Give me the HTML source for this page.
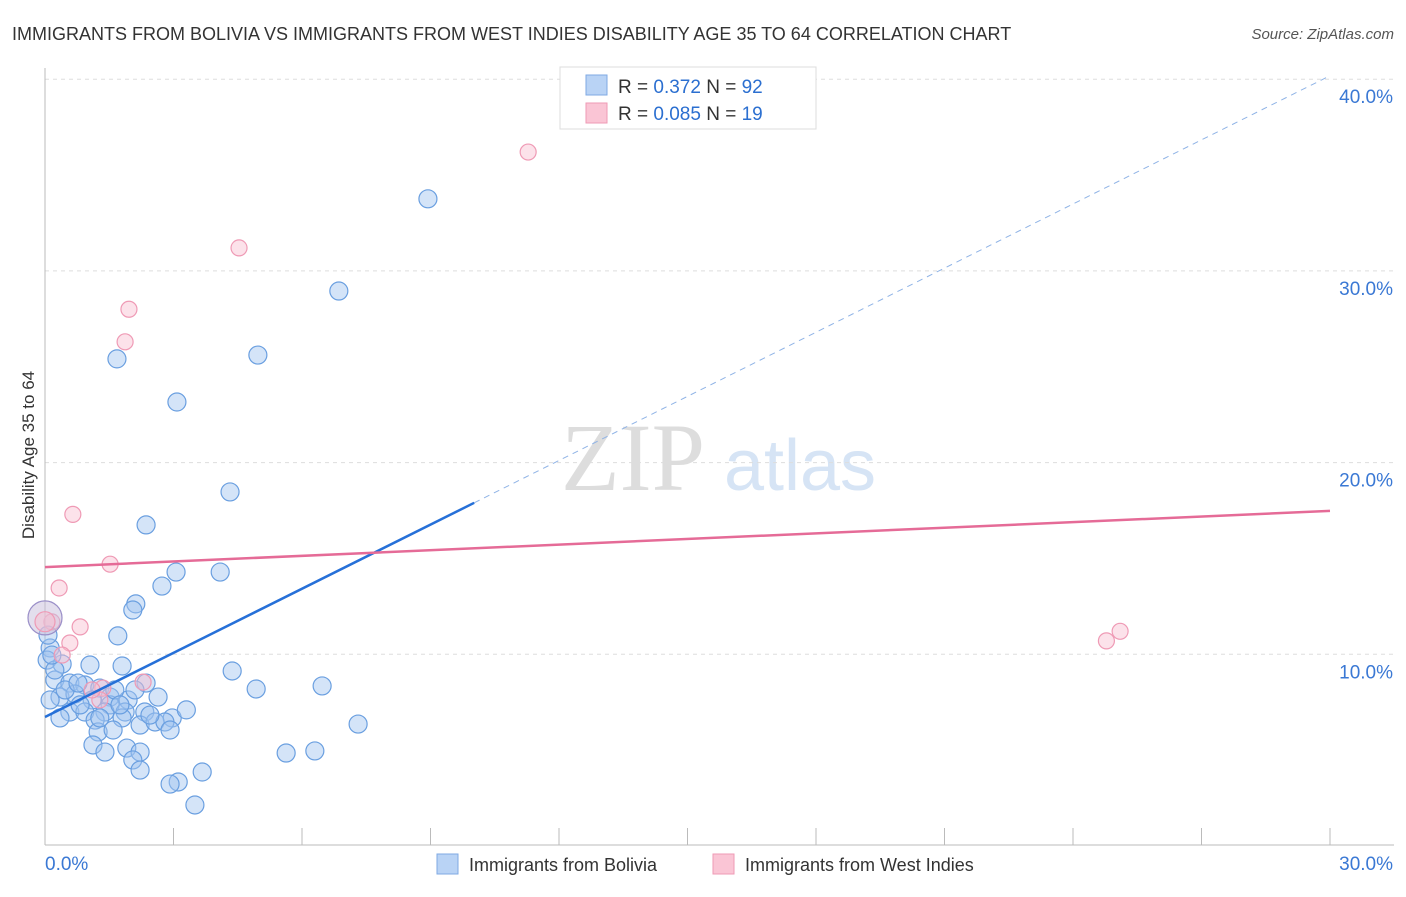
<!DOCTYPE html>
<html><head><meta charset="utf-8"><style>
body{margin:0;background:#fff;font-family:"Liberation Sans",sans-serif;}
</style></head><body>
<svg id="chart" width="1406" height="892" xmlns="http://www.w3.org/2000/svg" style="font-family:'Liberation Sans',sans-serif">
<text x="12" y="40" font-size="18" fill="#333">IMMIGRANTS FROM BOLIVIA VS IMMIGRANTS FROM WEST INDIES DISABILITY AGE 35 TO 64 CORRELATION CHART</text>
<text x="1394" y="39" font-size="15" fill="#555" font-style="italic" text-anchor="end">Source: ZipAtlas.com</text>
<text x="633" y="490" font-size="96" fill="#ddd" font-family="'Liberation Serif',serif" text-anchor="middle">ZIP</text>
<text x="800" y="490" font-size="72" fill="#d6e4f5" text-anchor="middle">atlas</text>
<g id="grid"></g><g id="axes"></g><g id="marks"></g>
<text transform="translate(34,455) rotate(-90)" font-size="17" fill="#333" text-anchor="middle">Disability Age 35 to 64</text>
<g>
<rect x="560" y="67" width="256" height="62" fill="#fff" stroke="#ddd"/>
<rect x="586" y="75" width="21" height="20" fill="#b9d3f5" stroke="#7fa9e3"/>
<rect x="586" y="103" width="21" height="20" fill="#fac5d5" stroke="#ef9ab5"/>
<text x="618" y="93" font-size="19" fill="#333">R = <tspan fill="#2b6fd0"> 0.372</tspan>   N = <tspan fill="#2b6fd0">92</tspan></text>
<text x="618" y="120" font-size="19" fill="#333">R = <tspan fill="#2b6fd0">0.085</tspan>   N = <tspan fill="#2b6fd0"> 19</tspan></text>
</g>
<g>
<rect x="437" y="854" width="21" height="20" fill="#b9d3f5" stroke="#7fa9e3"/>
<text x="469" y="871" font-size="18" fill="#333">Immigrants from Bolivia</text>
<rect x="713" y="854" width="21" height="20" fill="#fac5d5" stroke="#ef9ab5"/>
<text x="745" y="871" font-size="18" fill="#333">Immigrants from West Indies</text>
</g>
</svg>
<script>
const yTicks=[10,20,30,40];
const yTickLabels=["10.0%","20.0%","30.0%","40.0%"];
const xTickLabels=["0.0%","30.0%"];
const blueX=[8.94,6.86,4.97,1.68,3.08,4.32,2.36,3.06,4.09,2.73,2.12,2.05,1.70,0.12,0.05,0.40,1.05,1.80,4.37,0.23,0.58,0.93,1.28,2.36,4.93,6.47,0.35,0.70,1.10,1.52,1.94,2.64,1.52,0.58,0.93,1.40,1.87,2.33,2.97,3.30,1.17,1.80,2.22,2.57,2.80,2.92,7.31,1.24,1.59,1.12,1.91,2.22,1.40,2.05,2.22,5.63,6.30,3.67,3.11,2.92,3.50,0.23,0.47,0.82,1.63,2.10,2.45,1.75,1.28,0.12,0.35,0.77,0.07,0.16];
const blueY=[33.76,28.95,25.61,25.41,23.16,18.47,16.75,14.29,14.29,13.56,12.63,12.31,10.96,10.33,9.70,9.49,9.44,9.39,9.13,8.66,8.50,8.40,8.24,8.50,8.19,8.35,7.77,7.93,7.62,7.77,7.62,7.77,7.36,6.99,6.99,6.99,6.99,6.99,6.68,7.10,6.57,6.68,6.31,6.47,6.47,6.05,6.36,5.95,6.05,5.27,5.11,4.90,4.90,4.49,3.96,4.85,4.96,3.86,3.34,3.23,2.14,9.18,8.14,7.36,8.14,8.14,6.83,7.36,6.68,7.62,6.68,8.50,11.0,9.96];
const pinkX=[11.28,4.53,1.96,1.87,0.65,1.52,0.33,0.16,0.82,0.58,0.40,1.35,2.29,25.1,24.78,1.28,1.10];
const pinkY=[36.2,31.2,28.0,26.3,17.3,14.7,13.46,11.69,11.43,10.59,9.96,8.24,8.55,11.2,10.7,7.62,8.14];
const bigX=[0,0];const bigY=[11.9,11.7];
const blueTrend=[6.73,1.115];const pinkTrend=[14.55,0.0977];
const X=v=>45+v/30*1285, Y=v=>846-v*19.17;
const NS="http://www.w3.org/2000/svg";
function mk(p,t,a){const e=document.createElementNS(NS,t);for(const k in a)e.setAttribute(k,a[k]);document.getElementById(p).appendChild(e);return e;}
yTicks.forEach((t,i)=>{
 const g=mk('grid','line',{x1:45,x2:1394,y1:Y(t),y2:Y(t),stroke:'#ddd','stroke-dasharray':'4,4'});
 
 
 const l=mk('axes','text',{x:1393,y:Y(t)+24,'text-anchor':'end','font-size':19,fill:'#3a78d4'});
 l.textContent=yTickLabels[i];
 
 
});
const ax=mk('axes','line',{x1:45,x2:1394,y1:845,y2:845,stroke:'#bbb'});


const ay=mk('axes','line',{x1:45,x2:45,y1:68,y2:845,stroke:'#bbb'});


for(let i=1;i<=10;i++){const t=mk('axes','line',{x1:X(i*3),x2:X(i*3),y1:828,y2:845,stroke:'#bbb'});
 
 }
xTickLabels.forEach((s,i)=>{const l=mk('axes','text',{x:i?1393:45,y:870,'text-anchor':i?'end':'start','font-size':19,fill:'#3a78d4'});l.textContent=s;
 
 });
blueX.forEach((x,i)=>{const c=mk('marks','circle',{cx:X(x),cy:Y(blueY[i]),r:9,fill:'rgba(160,196,240,0.45)',stroke:'#6a9fe0','stroke-width':1.2});
 
 });
pinkX.forEach((x,i)=>{const c=mk('marks','circle',{cx:X(x),cy:Y(pinkY[i]),r:8,fill:'rgba(248,190,208,0.45)',stroke:'#ef9ab5','stroke-width':1.2});
 
 });
bigX.forEach((x,i)=>{const c=mk('marks','circle',{cx:X(x),cy:Y(bigY[i]),r:i?10:17,fill:i?'rgba(248,190,208,0.5)':'rgba(200,190,220,0.5)',stroke:i?'#ef9ab5':'#9a8fc8','stroke-width':1.2});
 
 });
const bx=10.02;
const b1=mk('marks','line',{x1:X(0),y1:Y(blueTrend[0]),x2:X(bx),y2:Y(blueTrend[0]+blueTrend[1]*bx),stroke:'#2670d8','stroke-width':2.5});


const b2=mk('marks','line',{x1:X(bx),y1:Y(blueTrend[0]+blueTrend[1]*bx),x2:X(30),y2:Y(blueTrend[0]+blueTrend[1]*30),stroke:'#8fb3e6','stroke-width':1,'stroke-dasharray':'6,5'});


const p1=mk('marks','line',{x1:X(0),y1:Y(pinkTrend[0]),x2:X(30),y2:Y(pinkTrend[0]+pinkTrend[1]*30),stroke:'#e56b97','stroke-width':2.5});


</script>
</body></html>
